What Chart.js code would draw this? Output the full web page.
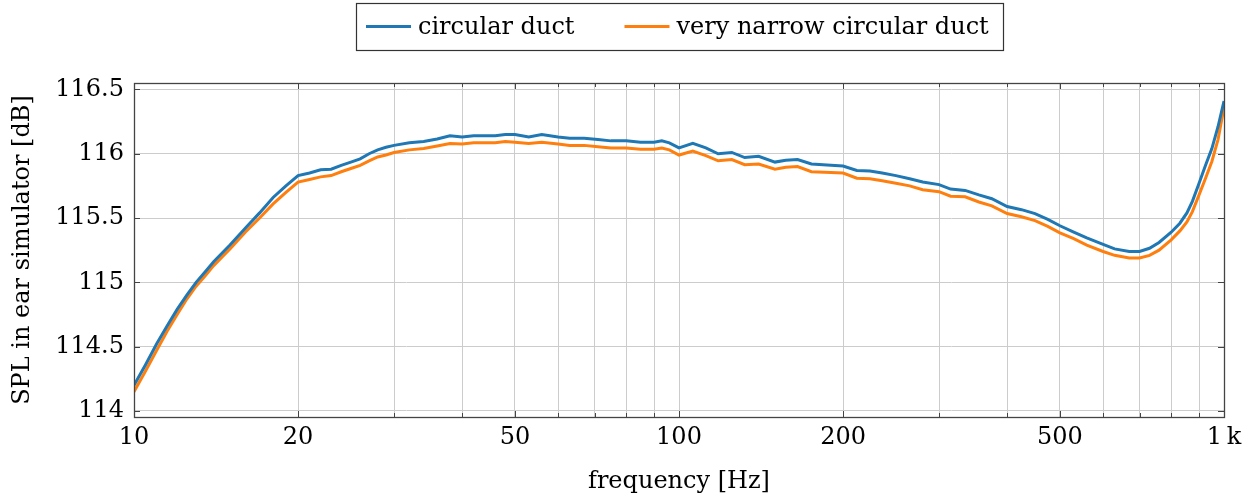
<!DOCTYPE html>
<html>
<head>
<meta charset="utf-8">
<script src="https://cdn.jsdelivr.net/npm/chart.js@4"></script>
<style>
  html, body { margin: 0; padding: 0; background: #fff; }
</style>
</head>
<body>
<canvas id="chart" width="1251" height="497"></canvas>
<script>
// frequencies in Hz
const freqs = [
  10, 10.5, 11, 11.5, 12, 12.5, 13, 13.5, 14, 15, 16, 17, 18, 19,
  20, 21, 22, 23, 24, 25, 26, 27, 28, 29, 30, 32, 34, 36, 38,
  40, 42, 44, 46, 48, 50, 53, 56, 60, 63, 67, 71, 75, 80, 85, 90, 93, 96,
  100, 106, 112, 118, 125, 132, 140, 150, 157, 165, 175, 190,
  200, 212, 224, 236, 250, 265, 280, 300, 315, 335, 355, 375,
  400, 425, 450, 475, 500, 530, 560, 600, 630, 670, 700, 730, 760,
  800, 830, 855, 875, 900, 925, 950, 975, 1000
];

// SPL [dB], circular duct (blue)
const circularDuct = [
  114.20, 114.36, 114.52, 114.66, 114.79, 114.90, 115.00, 115.08, 115.16, 115.29, 115.42, 115.54, 115.66, 115.75,
  115.83, 115.85, 115.875, 115.88, 115.91, 115.935, 115.96, 116.00, 116.03, 116.05, 116.065, 116.085, 116.095, 116.115, 116.14,
  116.13, 116.14, 116.14, 116.14, 116.15, 116.15, 116.13, 116.15, 116.13, 116.12, 116.12, 116.11, 116.10, 116.10, 116.09, 116.09, 116.10, 116.085,
  116.045, 116.08, 116.045, 116.00, 116.01, 115.97, 115.98, 115.935, 115.95, 115.955, 115.92, 115.91,
  115.905, 115.87, 115.865, 115.85, 115.83, 115.805, 115.78, 115.76, 115.725, 115.715, 115.68, 115.65,
  115.59, 115.565, 115.535, 115.49, 115.44, 115.39, 115.345, 115.295, 115.26, 115.24, 115.24, 115.265, 115.31,
  115.39, 115.46, 115.54, 115.63, 115.77, 115.91, 116.04, 116.21, 116.41
];

// SPL [dB], very narrow circular duct (orange)
const narrowDuct = [
  114.15, 114.31, 114.47, 114.62, 114.75, 114.87, 114.97, 115.05, 115.13, 115.26, 115.39, 115.50, 115.61, 115.70,
  115.78, 115.80, 115.82, 115.83, 115.86, 115.885, 115.91, 115.945, 115.975, 115.99, 116.01, 116.03, 116.04, 116.06, 116.08,
  116.075, 116.085, 116.085, 116.085, 116.095, 116.09, 116.08, 116.09, 116.075, 116.065, 116.065, 116.055, 116.045, 116.045, 116.035, 116.035, 116.045, 116.03,
  115.99, 116.02, 115.985, 115.945, 115.955, 115.915, 115.92, 115.88, 115.895, 115.90, 115.86, 115.855,
  115.85, 115.81, 115.805, 115.79, 115.77, 115.75, 115.72, 115.705, 115.67, 115.665, 115.625, 115.595,
  115.535, 115.51, 115.48, 115.435, 115.385, 115.34, 115.29, 115.24, 115.21, 115.19, 115.19, 115.21, 115.25,
  115.33, 115.40, 115.47, 115.55, 115.68, 115.81, 115.94, 116.11, 116.36
];

const seriesNames = ['circular duct', 'very narrow circular duct'];
const xGrid = [10, 20, 30, 40, 50, 60, 70, 80, 90, 100, 200, 300, 400, 500, 600, 700, 800, 900, 1000];
const xTickLabels = { 10: '10', 20: '20', 50: '50', 100: '100', 200: '200', 500: '500', 1000: '1\u2009k' };
const yTicks = [114, 114.5, 115, 115.5, 116, 116.5];

const FONT = 'DejaVu Serif';
Chart.defaults.font.family = FONT;
Chart.defaults.font.size = 24;
Chart.defaults.color = '#000';

const toPoints = ys => freqs.map((f, i) => ({ x: f, y: ys[i] }));

// axis box + inward ticks, like the pgfplots frame
const frame = {
  id: 'frame',
  afterDraw(chart) {
    const { ctx, chartArea: a, scales } = chart;
    ctx.save();
    ctx.strokeStyle = '#444';
    ctx.lineWidth = 1;
    ctx.beginPath();
    yTicks.forEach(v => {
      const y = Math.round(scales.y.getPixelForValue(v)) + 0.5;
      ctx.moveTo(a.left, y); ctx.lineTo(a.left + 6, y);
      ctx.moveTo(a.right, y); ctx.lineTo(a.right - 6, y);
    });
    xGrid.forEach(v => {
      const x = Math.round(scales.x.getPixelForValue(v)) + 0.5;
      const len = xTickLabels[v] ? 6 : 4;
      ctx.moveTo(x, a.bottom); ctx.lineTo(x, a.bottom - len);
      ctx.moveTo(x, a.top); ctx.lineTo(x, a.top + len);
    });
    ctx.stroke();
    ctx.lineWidth = 1.3;
    ctx.strokeRect(Math.round(a.left) + 0.5, Math.round(a.top) + 0.5,
                   Math.round(a.right - a.left), Math.round(a.bottom - a.top));
    ctx.restore();
  }
};

// boxed legend centred above the plot
const legendBox = {
  id: 'legendBox',
  afterDraw(chart) {
    const { ctx, chartArea: a } = chart;
    ctx.save();
    ctx.font = '24px "' + FONT + '"';
    const sample = 45, gap = 7, between = 50, padL = 10, padR = 14;
    const items = chart.data.datasets.map(ds => ({
      label: ds.label, color: ds.borderColor, w: ctx.measureText(ds.label).width
    }));
    let total = padL + padR;
    items.forEach((it, i) => { total += sample + gap + it.w + (i ? between : 0); });
    let x = Math.round((a.left + a.right) / 2 - total / 2);
    const top = 3, h = 47, cy = top + h / 2;
    ctx.strokeStyle = '#333';
    ctx.lineWidth = 1.2;
    ctx.strokeRect(x + 0.5, top + 0.5, Math.round(total), h);
    x += padL;
    items.forEach((it, i) => {
      if (i) x += between;
      ctx.strokeStyle = it.color;
      ctx.lineWidth = 3;
      ctx.beginPath();
      ctx.moveTo(x, cy); ctx.lineTo(x + sample, cy);
      ctx.stroke();
      x += sample + gap;
      ctx.fillStyle = '#000';
      ctx.textBaseline = 'middle';
      ctx.textAlign = 'left';
      ctx.fillText(it.label, x, cy + 1);
      x += it.w;
    });
    ctx.restore();
  }
};

new Chart(document.getElementById('chart'), {
  type: 'line',
  data: {
    datasets: [
      {
        label: seriesNames[0],
        data: toPoints(circularDuct),
        borderColor: '#1f77b4',
        borderWidth: 3,
        pointRadius: 0,
        tension: 0,
        fill: false
      },
      {
        label: seriesNames[1],
        data: toPoints(narrowDuct),
        borderColor: '#ff7f0e',
        borderWidth: 3,
        pointRadius: 0,
        tension: 0,
        fill: false
      }
    ]
  },
  options: {
    responsive: false,
    animation: false,
    layout: { padding: { top: 83, right: 27, left: 0, bottom: 0 } },
    plugins: {
      legend: { display: false },
      tooltip: { enabled: false }
    },
    scales: {
      x: {
        type: 'logarithmic',
        min: 10,
        max: 1000,
        afterBuildTicks: s => { s.ticks = xGrid.map(v => ({ value: v })); },
        afterFit: s => { s.height = 80; },
        ticks: {
          autoSkip: false,
          maxRotation: 0,
          padding: 6,
          callback: v => xTickLabels[v] || ''
        },
        grid: { color: '#cccccc', lineWidth: 1, drawTicks: false },
        border: { display: false },
        title: {
          display: true,
          text: 'frequency [Hz]',
          padding: { top: 0, bottom: 1 }
        }
      },
      y: {
        min: 113.953,
        max: 116.55,
        afterBuildTicks: s => { s.ticks = yTicks.map(v => ({ value: v })); },
        afterFit: s => { s.width = 134; },
        ticks: {
          padding: 10,
          callback: v => String(v)
        },
        grid: { color: '#cccccc', lineWidth: 1, drawTicks: false },
        border: { display: false },
        title: {
          display: true,
          text: 'SPL in ear simulator [dB]',
          padding: { top: 8, bottom: 0 }
        }
      }
    }
  },
  plugins: [frame, legendBox]
});
</script>
</body>
</html>
